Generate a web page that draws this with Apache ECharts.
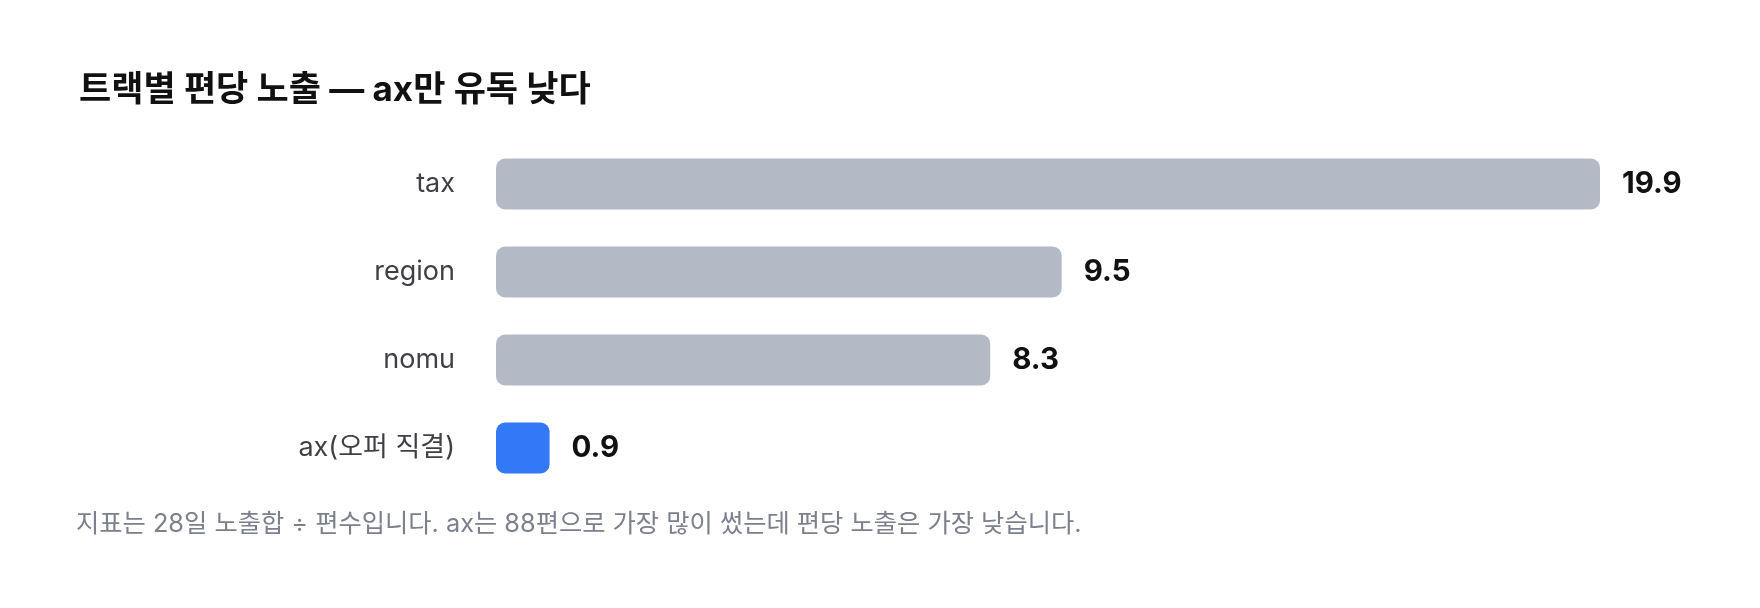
<!DOCTYPE html>
<html>
<head>
<meta charset="utf-8">
<script src="https://cdn.jsdelivr.net/npm/echarts@6/dist/echarts.min.js"></script>
<style>
html,body{margin:0;padding:0;background:#fff;}
#chart{width:1760px;height:608px;}
</style>
</head>
<body>
<div id="chart"></div>
<script>
const titleText = '트랙별 편당 노출 — ax만 유독 낮다';
const noteText = '지표는 28일 노출합 ÷ 편수입니다. ax는 88편으로 가장 많이 썼는데 편당 노출은 가장 낮습니다.';
const categories = ['tax', 'region', 'nomu', 'ax(오퍼 직결)'];
const values = [19.9, 9.5, 8.3, 0.9];
const highlightCategory = 'ax(오퍼 직결)';

const FONT = "Inter, 'Noto Sans CJK KR', 'Noto Sans', sans-serif";
const chart = echarts.init(document.getElementById('chart'), null, {renderer: 'canvas'});
chart.setOption({
  backgroundColor: '#ffffff',
  animation: false,
  title: {
    text: titleText,
    left: 74,
    top: 68,
    textStyle: {fontFamily: FONT, fontSize: 35, fontWeight: 'bold', color: '#111111'}
  },
  graphic: [{
    type: 'text',
    left: 76,
    top: 512,
    style: {text: noteText, fontFamily: FONT, fontSize: 25.3, fill: '#7b808c'}
  }],
  grid: {left: 496, top: 140, width: 1104, height: 352, containLabel: false},
  xAxis: {
    type: 'value',
    min: 0,
    max: 18.54,
    show: false
  },
  yAxis: {
    type: 'category',
    data: categories,
    inverse: true,
    axisLine: {show: false},
    axisTick: {show: false},
    splitLine: {show: false},
    axisLabel: {margin: 41, fontFamily: FONT, fontSize: 27, color: '#3f3f46'}
  },
  series: [{
    type: 'bar',
    data: values,
    barWidth: 51,
    clip: true,
    itemStyle: {
      borderRadius: 9,
      color: p => p.name === highlightCategory ? '#3378f6' : '#b3bac5'
    },
    label: {
      show: true,
      position: 'right',
      distance: 22,
      formatter: p => p.value.toFixed(1),
      fontFamily: FONT,
      fontSize: 29.5,
      fontWeight: 'bold',
      color: '#111111'
    }
  }]
});
</script>
</body>
</html>
